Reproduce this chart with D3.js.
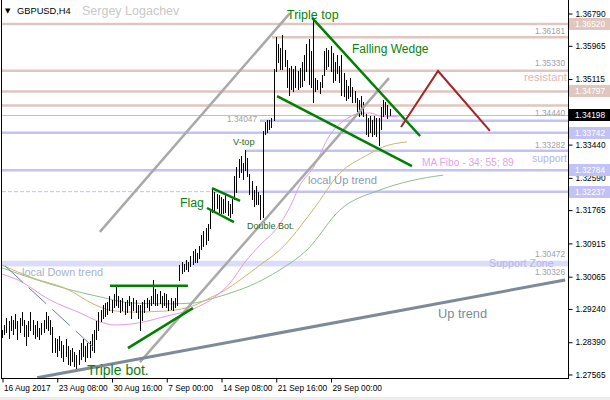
<!DOCTYPE html>
<html><head><meta charset="utf-8">
<script src="https://cdn.jsdelivr.net/npm/d3@7"></script>
<style>
body{margin:0;background:#fff;}
svg{display:block;font-family:"Liberation Sans",Arial,sans-serif;}
</style></head><body>
<svg id="c" width="610" height="400"></svg>
<script>
// ---------- DATA ----------
const barHigh=[1.2871,1.2882,1.2902,1.2892,1.2907,1.2897,1.2910,1.2892,1.2902,1.2917,
1.2897,1.2882,1.2892,1.2917,1.2897,1.2884,1.2892,1.2876,1.2887,1.2897,
1.2915,1.2907,1.2897,1.2879,1.2851,1.2846,1.2856,1.2841,1.2833,1.2846,
1.2830,1.2820,1.2825,1.2815,1.2807,1.2820,1.2836,1.2846,1.2830,1.2838,
1.2841,1.2859,1.2871,1.2892,1.2917,1.2922,1.2933,1.2938,1.2943,1.2958,
1.2948,1.2961,1.2981,1.2958,1.2948,1.2953,1.2943,1.2948,1.2958,1.2943,
1.2953,1.2948,1.2935,1.2935,1.2943,1.2948,1.2953,1.2948,1.2958,1.2997,
1.2974,1.2963,1.2969,1.2958,1.2966,1.2961,1.2948,1.2951,1.2945,1.2953,
1.2981,1.3037,1.3045,1.3040,1.3050,1.3045,1.3060,1.3071,1.3076,1.3066,
1.3086,1.3112,1.3122,1.3132,1.3140,1.3178,1.3234,1.3224,1.3219,1.3214,
1.3209,1.3204,1.3214,1.3199,1.3191,1.3204,1.3265,1.3288,1.3306,1.3316,
1.3298,1.3331,1.3311,1.3270,1.3250,1.3229,1.3239,1.3224,1.3216,1.3380,
1.3403,1.3408,1.3406,1.3413,1.3536,1.3620,1.3602,1.3592,1.3623,1.3587,
1.3561,1.3541,1.3546,1.3536,1.3544,1.3531,1.3541,1.3556,1.3574,1.3600,
1.3613,1.3582,1.3664,1.3515,1.3510,1.3505,1.3521,1.3582,1.3592,1.3587,
1.3595,1.3577,1.3556,1.3572,1.3546,1.3574,1.3526,1.3510,1.3495,1.3515,
1.3490,1.3480,1.3464,1.3459,1.3467,1.3452,1.3421,1.3413,1.3418,1.3408,
1.3416,1.3411,1.3413,1.3439,1.3459,1.3452,1.3444,1.3434];
const barLow=[1.2853,1.2859,1.2864,1.2851,1.2871,1.2861,1.2876,1.2846,1.2866,1.2882,
1.2856,1.2833,1.2856,1.2871,1.2861,1.2851,1.2856,1.2846,1.2861,1.2864,
1.2876,1.2871,1.2861,1.2813,1.2815,1.2805,1.2820,1.2800,1.2790,1.2805,
1.2784,1.2782,1.2790,1.2779,1.2774,1.2784,1.2795,1.2805,1.2790,1.2800,
1.2802,1.2820,1.2815,1.2846,1.2871,1.2892,1.2902,1.2907,1.2910,1.2922,
1.2917,1.2928,1.2935,1.2928,1.2917,1.2922,1.2910,1.2915,1.2933,1.2902,
1.2922,1.2917,1.2902,1.2871,1.2897,1.2917,1.2928,1.2922,1.2933,1.2940,
1.2935,1.2933,1.2938,1.2928,1.2935,1.2930,1.2922,1.2925,1.2922,1.2928,
1.2935,1.2999,1.3015,1.3020,1.3025,1.3020,1.3035,1.3040,1.3045,1.3045,
1.3055,1.3076,1.3086,1.3091,1.3101,1.3132,1.3173,1.3178,1.3183,1.3173,
1.3168,1.3168,1.3173,1.3163,1.3160,1.3168,1.3204,1.3222,1.3260,1.3275,
1.3255,1.3280,1.3265,1.3219,1.3204,1.3186,1.3193,1.3193,1.3153,1.3158,
1.3370,1.3377,1.3383,1.3388,1.3408,1.3531,1.3556,1.3536,1.3536,1.3546,
1.3490,1.3472,1.3485,1.3480,1.3490,1.3485,1.3490,1.3495,1.3510,1.3531,
1.3498,1.3490,1.3454,1.3480,1.3485,1.3477,1.3490,1.3523,1.3536,1.3546,
1.3531,1.3505,1.3510,1.3526,1.3505,1.3472,1.3469,1.3459,1.3464,1.3469,
1.3452,1.3454,1.3429,1.3418,1.3423,1.3416,1.3372,1.3367,1.3375,1.3365,
1.3372,1.3367,1.3344,1.3383,1.3418,1.3423,1.3413,1.3420];
const bidPrice=1.34198;

// moving averages [bar index, price]
const ma34=[[0,1.3013],[7.3,1.2998],[21.9,1.2947],[35.6,1.2914],[44.7,1.2891],[51.6,1.2883],[59.8,1.2886],[75.3,1.2906],[87.2,1.2924],[97.3,1.2955],[104.1,1.2990],[111,1.3044],[117.8,1.3087],[125.6,1.3131],[131.5,1.3185],[136.1,1.3241],[142,1.3284],[149.8,1.3369],[156.6,1.3407],[162.1,1.3422],[168,1.3425],[174,1.3415],[181.7,1.3417]];
const ma55=[[0,1.3036],[14.2,1.3003],[29.7,1.2975],[41.6,1.2937],[49.3,1.2921],[59.8,1.2916],[75.3,1.2919],[87.2,1.2932],[95,1.2952],[101.8,1.2972],[108.7,1.2998],[117.8,1.3036],[126.9,1.3075],[142,1.3177],[154.3,1.3271],[166.7,1.3317],[172.6,1.3335],[184.9,1.3351]];
const ma89=[[0,1.3029],[16,1.2998],[29.7,1.2975],[44.7,1.2955],[59.8,1.2939],[75.3,1.2937],[87.2,1.2939],[95,1.2949],[105.5,1.2967],[113.2,1.2983],[126.9,1.3024],[139.3,1.3075],[154.3,1.3177],[172.6,1.3228],[186.3,1.3251],[201.4,1.3266]];

// horizontal levels
const resistPrices=[1.36520,1.36181,1.35330,1.34797,1.34440];
const resistStart=[null,123.3,null,null,null];
const supportPrices=[1.34047,1.33742,1.33282,1.32784,1.32237];
const supportStart=[117.8,null,111,null,96.3];
const zoneTop=1.30472, zoneBottom=1.30326;

// trend lines [[i,p],[i,p]]
const channelUpper=[[44.7,1.3121],[131.5,1.3680]];
const channelLower=[[63,1.2788],[176.7,1.3514]];
const upTrend=[[16,1.2748],[257.1,1.2998]];
const localDown=[[1.4,1.3034],[41.6,1.2827]];
const tripleBotLine=[[57.5,1.2824],[87.2,1.2926]];
const rangeTop=[[49.3,1.2983],[84.9,1.2983]];
const flagUpper=[[95.9,1.3233],[108.7,1.3200]];
const flagLower=[[93.6,1.3182],[105.9,1.3146]];
const wedgeUpper=[[141.6,1.3668],[190.9,1.3366]];
const wedgeLower=[[125.6,1.3468],[187.2,1.3289]];
const forecast=[[182.2,1.3389],[199.1,1.3532],[222.8,1.3379]];

// axes
const yTicks=[1.36790,1.35965,1.35115,1.33440,1.32590,1.31765,1.30915,1.30065,1.29240,1.28390,1.27565];
const xTickIdx=[0,25,50,75,100,125,150];
const xTickLabels=["16 Aug 2017","23 Aug 08:00","30 Aug 16:00","7 Sep 00:00","14 Sep 08:00","21 Sep 16:00","29 Sep 00:00"];
const boxPrices=[1.36520,1.34797,1.34198,1.33742,1.32784,1.32237];
const boxKinds=["res","res","bid","sup","sup","sup"];

// ---------- DRAW ----------
const L=2,R=568,T=0,B=378;
const svg=d3.select('#c');
const x=d3.scaleLinear().domain([0,177]).range([2,2+177*2.19]);
const y=d3.scaleLinear().domain([1.27565,1.36790]).range([374.5,13.5]);
const col={res:"#dfc6bf",sup:"#c2c2f6",zone:"#dcdcfa",gray:"#a9a9a9",slate:"#7d8a9a",green:"#008000",red:"#a32626",bid:"#000"};

svg.append('defs').append('clipPath').attr('id','clip').append('rect')
  .attr('x',L).attr('y',T).attr('width',R-L).attr('height',B-T);
const g=svg.append('g').attr('clip-path','url(#clip)');

// support zone
g.append('rect').attr('x',L).attr('width',R-L)
  .attr('y',y(zoneTop)).attr('height',y(zoneBottom)-y(zoneTop)).attr('fill',col.zone);

// levels
resistPrices.forEach((p,k)=>{
  g.append('line').attr('x1',resistStart[k]==null?L:x(resistStart[k])).attr('x2',R)
   .attr('y1',y(p)).attr('y2',y(p)).attr('stroke',col.res).attr('stroke-width',2.5);
});
supportPrices.forEach((p,k)=>{
  if(supportStart[k]!=null && k===4){
    g.append('line').attr('x1',L).attr('x2',x(supportStart[k])).attr('y1',y(p)).attr('y2',y(p))
     .attr('stroke',col.sup).attr('stroke-width',1).attr('stroke-dasharray','4,2');
  }
  g.append('line').attr('x1',supportStart[k]==null?L:x(supportStart[k])).attr('x2',R)
   .attr('y1',y(p)).attr('y2',y(p)).attr('stroke',col.sup).attr('stroke-width',2.5);
});
// bid line
g.append('line').attr('x1',L).attr('x2',R).attr('y1',Math.round(y(bidPrice))+0.5).attr('y2',Math.round(y(bidPrice))+0.5)
 .attr('stroke','#c0c0c0').attr('stroke-width',1);

// MAs
const maLine=d3.line().x(d=>x(d[0])).y(d=>y(d[1])).curve(d3.curveMonotoneX);
[[ma89,"#8fbf8f"],[ma55,"#c8b870"],[ma34,"#e49ae4"]].forEach(([d,c])=>{
  g.append('path').attr('d',maLine(d)).attr('fill','none').attr('stroke',c).attr('stroke-width',1);
});

// bars
g.selectAll('line.bar').data(barHigh).enter().append('line').attr('class','bar')
  .attr('x1',(d,i)=>Math.round(x(i))+0.5).attr('x2',(d,i)=>Math.round(x(i))+0.5)
  .attr('y1',d=>Math.round(y(d))).attr('y2',(d,i)=>Math.round(y(barLow[i]))+1)
  .attr('stroke','#000').attr('stroke-width',1);

// trend lines
const seg=d3.line().x(d=>x(d[0])).y(d=>y(d[1]));
function draw(d,c,w,dash){
  const p=g.append('path').attr('d',seg(d)).attr('fill','none').attr('stroke',c).attr('stroke-width',w);
  if(dash) p.attr('stroke-dasharray',dash);
}
draw(channelUpper,col.gray,2.5);
draw(channelLower,col.gray,2.5);
draw(upTrend,col.slate,3);
draw(localDown,"#6f7f90",1,"24,8");
draw(tripleBotLine,col.green,2.5);
draw(rangeTop,col.green,2.5);
draw(flagUpper,col.green,2.5);
draw(flagLower,col.green,2.5);
draw(wedgeUpper,col.green,2.5);
draw(wedgeLower,col.green,2.5);
draw(forecast,col.red,2);

// ---------- TEXT ----------
function txt(s,xx,yy,size,fill,anchor){
  return svg.append('text').attr('x',xx).attr('y',yy).attr('font-size',size).attr('fill',fill)
    .attr('text-anchor',anchor||'start').text(s);
}
// level descriptions
const lvlTxt=[["1.36181",1.36181,-3.6],["1.35330",1.35330,-5],["1.34440",1.34440,10.5],["1.33282",1.33282,-2.3],["1.30472",zoneTop,-4],["1.30326",zoneBottom,8.5]];
lvlTxt.forEach(([s,p,dy])=>txt(s,565,y(p)+dy,8.3,"#a0a0a8","end"));
txt("1.34047",257,y(supportPrices[0])+1.5,8.3,"#a0a0a8","end");
txt("resistant",567,81,11.4,"#dcb9b0","end");
txt("support",567,162,10.5,"#b4b4ee","end");
txt("Support Zone",489,266.5,10.7,"#b4b4ee");
txt("MA Fibo - 34; 55; 89",422,166,10.2,"#e2a2e6");

txt("Triple top",287,18.5,12.5,"#0c800c");
txt("Falling Wedge",352,53,12,"#0c800c");
txt("Flag",180,207,12.3,"#0c800c");
txt("V-top",233,145,9.3,"#2a6a2a");
txt("Double Bot.",247,229,9,"#2a6a2a");
txt("Triple bot.",87,375,14,"#0c800c");
txt("local Up trend",308,184,11.2,"#8c9ab0");
txt("local Down trend",22,276,10.9,"#a6b2c8");
txt("Up trend",438,318,12.8,"#7d8a9a");

// title
svg.append('text').attr('x',5).attr('y',13).attr('font-size',7).attr('font-family','DejaVu Sans').text('▼');
txt("GBPUSD,H4",17,13.5,9.3,"#000");
txt("Sergey Logachev",82,14.5,12.5,"#c8c8c8");

// ---------- AXES ----------
svg.append('line').attr('x1',1.5).attr('x2',1.5).attr('y1',0).attr('y2',B).attr('stroke','#000');
svg.append('line').attr('x1',R+0.5).attr('x2',R+0.5).attr('y1',0).attr('y2',B+0.5).attr('stroke','#000');
svg.append('line').attr('x1',1).attr('x2',R+1).attr('y1',B+0.5).attr('y2',B+0.5).attr('stroke','#000');

const yAxis=d3.axisRight(y).tickValues(yTicks).tickSize(4).tickPadding(3).tickFormat(d3.format('.5f'));
const ya=svg.append('g').attr('transform',`translate(${R+0.5},0)`).call(yAxis);
ya.select('.domain').remove();
ya.selectAll('text').attr('font-size',8.3).attr('font-family','"Liberation Sans",Arial,sans-serif').attr('fill','#000');

const xAxis=d3.axisBottom(x).tickValues(xTickIdx).tickSize(4).tickPadding(3).tickFormat((d,i)=>xTickLabels[i]);
const xa=svg.append('g').attr('transform',`translate(0,${B+0.5})`).call(xAxis);
xa.select('.domain').remove();
xa.selectAll('.tick line').attr('transform','translate(0.5,0)');
xa.selectAll('text').attr('font-size',8.3).attr('font-family','"Liberation Sans",Arial,sans-serif').attr('fill','#000')
  .attr('text-anchor','start').attr('dx',1.5);

// price boxes
boxPrices.forEach((p,k)=>{
  const yy=y(p);
  const c=boxKinds[k]==='bid'?'#000':(boxKinds[k]==='res'?col.res:col.sup);
  svg.append('rect').attr('x',R+1).attr('y',Math.round(yy)-6).attr('width',610-R-1).attr('height',12).attr('fill',c);
  txt(d3.format('.5f')(p),575,Math.round(yy)+3,8.3,'#fff');
});

// bottom strip
svg.append('rect').attr('x',0).attr('y',397).attr('width',610).attr('height',3).attr('fill','#ececec');
</script>
</body></html>
